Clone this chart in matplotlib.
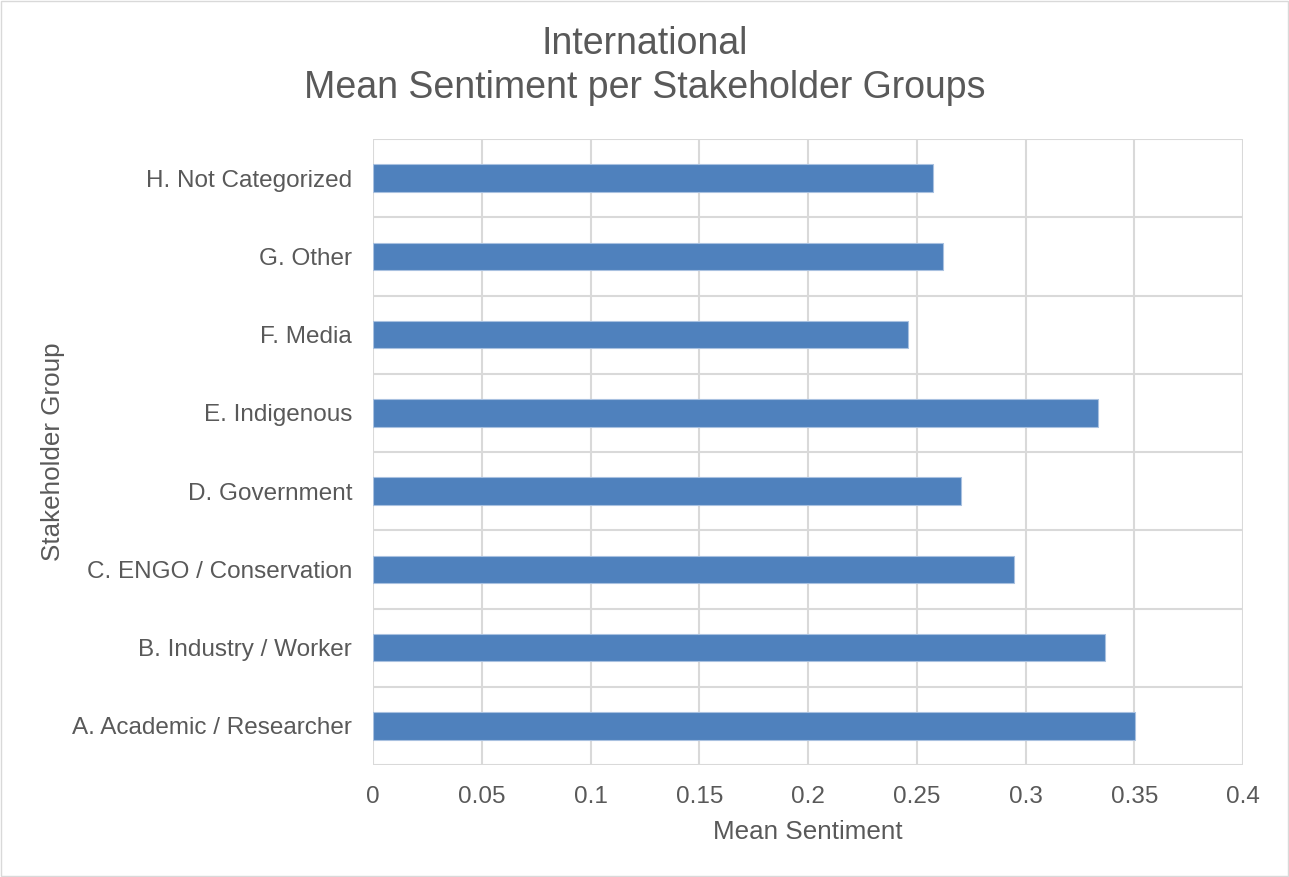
import numpy as np
import matplotlib.pyplot as plt

groups = ['A. Academic / Researcher', 'B. Industry / Worker', 'C. ENGO / Conservation',
          'D. Government', 'E. Indigenous', 'F. Media', 'G. Other', 'H. Not Categorized']
sentiment = [0.3505, 0.3365, 0.2945, 0.2702, 0.3333, 0.2462, 0.2622, 0.2573]
xticks = [0, 0.05, 0.1, 0.15, 0.2, 0.25, 0.3, 0.35, 0.4]

plt.rcParams['font.family'] = ['Liberation Sans', 'DejaVu Sans']
text_col = '#595959'
grid_col = '#d9d9d9'

fig = plt.figure(figsize=(12.89, 8.77), dpi=100)
ax = fig.add_axes([373 / 1289, 1 - 765 / 877, (1243 - 373) / 1289, (765 - 139) / 877])

y = np.arange(len(groups))
ax.barh(y, sentiment, height=0.35, color='#4f81bd', edgecolor='#a9c1e0', linewidth=0.8, zorder=3)

ax.set_xlim(0, 0.4)
ax.set_ylim(-0.5, len(groups) - 0.5)
ax.set_xticks(xticks)
ax.set_xticklabels([f'{t:g}' for t in xticks])
ax.set_yticks(y)
ax.set_yticklabels(groups)
# horizontal grid lines sit between categories
ax.set_yticks(np.arange(-0.5, len(groups), 1), minor=True)
ax.grid(axis='x', which='major', color=grid_col, linewidth=1.5, zorder=0)
ax.grid(axis='y', which='minor', color=grid_col, linewidth=1.5, zorder=0)
ax.tick_params(axis='both', which='both', length=0, labelsize=17.5, labelcolor=text_col)
ax.tick_params(axis='y', pad=15)
ax.tick_params(axis='x', pad=15)
for s in ax.spines.values():
    s.set_visible(False)

ax.set_xlabel('Mean Sentiment', fontsize=18.7, color=text_col, labelpad=9)
ax.set_ylabel('Stakeholder Group', fontsize=18.7, color=text_col, labelpad=5)
fig.text(645 / 1289, 1 - 66 / 877, 'International\nMean Sentiment per Stakeholder Groups',
         ha='center', va='center', fontsize=27, color=text_col, linespacing=1.26)

fig.patches.append(plt.Rectangle((0.001, 0.001), 0.998, 0.998, transform=fig.transFigure,
                                 fill=False, edgecolor='#d9d9d9', linewidth=1))

fig.savefig('out.png', dpi=100)
